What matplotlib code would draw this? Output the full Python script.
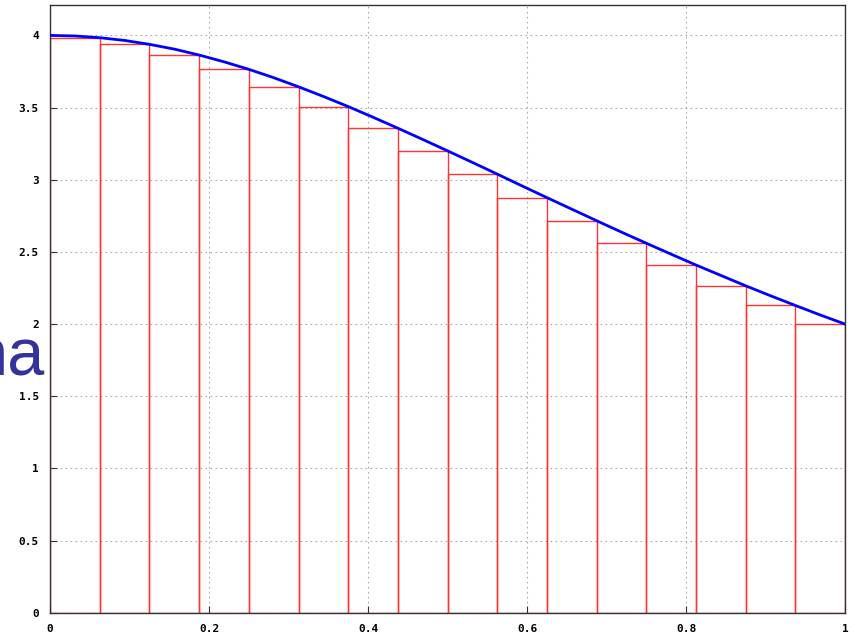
import matplotlib
matplotlib.use("Agg")
import matplotlib.pyplot as plt

# Riemann sum of 4/(1+x^2) on [0, 1], 16 right-endpoint rectangles
bar_left = [0.0, 0.0625, 0.125, 0.1875, 0.25, 0.3125, 0.375, 0.4375,
            0.5, 0.5625, 0.625, 0.6875, 0.75, 0.8125, 0.875, 0.9375]
bar_height = [3.984, 3.938, 3.864, 3.765, 3.644, 3.507, 3.357, 3.200,
              3.039, 2.876, 2.716, 2.560, 2.409, 2.265, 2.129, 2.000]

curve_x = [k / 32 for k in range(33)]
curve_y = [4.000, 3.996, 3.984, 3.965, 3.938, 3.905, 3.864, 3.817,
           3.765, 3.707, 3.644, 3.577, 3.507, 3.433, 3.357, 3.279,
           3.200, 3.120, 3.039, 2.957, 2.876, 2.796, 2.716, 2.637,
           2.560, 2.484, 2.409, 2.337, 2.265, 2.196, 2.129, 2.063, 2.000]

x_ticks = [0, 0.2, 0.4, 0.6, 0.8, 1]
x_labels = ["0", "0.2", "0.4", "0.6", "0.8", "1"]
y_ticks = [0, 0.5, 1, 1.5, 2, 2.5, 3, 3.5, 4]
y_labels = ["0", "0.5", "1", "1.5", "2", "2.5", "3", "3.5", "4"]

fig = plt.figure(figsize=(8.54, 6.35), dpi=100)
ax = fig.add_axes([0.0586, 0.035, 0.931, 0.957])

ax.bar(bar_left, bar_height, width=0.0625, align="edge",
       facecolor="none", edgecolor="#ff3333", linewidth=1.0, zorder=2)
ax.plot(curve_x, curve_y, color="#0000ff", linewidth=2.0, zorder=3)

ax.set_xlim(0, 1)
ax.set_ylim(0, 4.21)
ax.set_xticks(x_ticks)
ax.set_xticklabels(x_labels)
ax.set_yticks(y_ticks)
ax.set_yticklabels(y_labels)
ax.grid(True, color="#aaaaaa", linestyle=(0, (1.5, 3)), linewidth=0.8, zorder=0)
ax.tick_params(direction="in", length=5, color="#333333", labelsize=8,
               pad=8)
for lab in ax.get_xticklabels() + ax.get_yticklabels():
    lab.set_fontfamily("DejaVu Sans Mono")
    lab.set_fontweight("bold")
for sp in ax.spines.values():
    sp.set_color("#333333")
    sp.set_linewidth(1.0)

# stray slide text at the left edge
fig.text(45 / 854, 1 - 376 / 635, "na", ha="right", va="baseline",
         fontsize=48, color="#333399", family="Liberation Sans")

fig.savefig("out.png", dpi=100)
